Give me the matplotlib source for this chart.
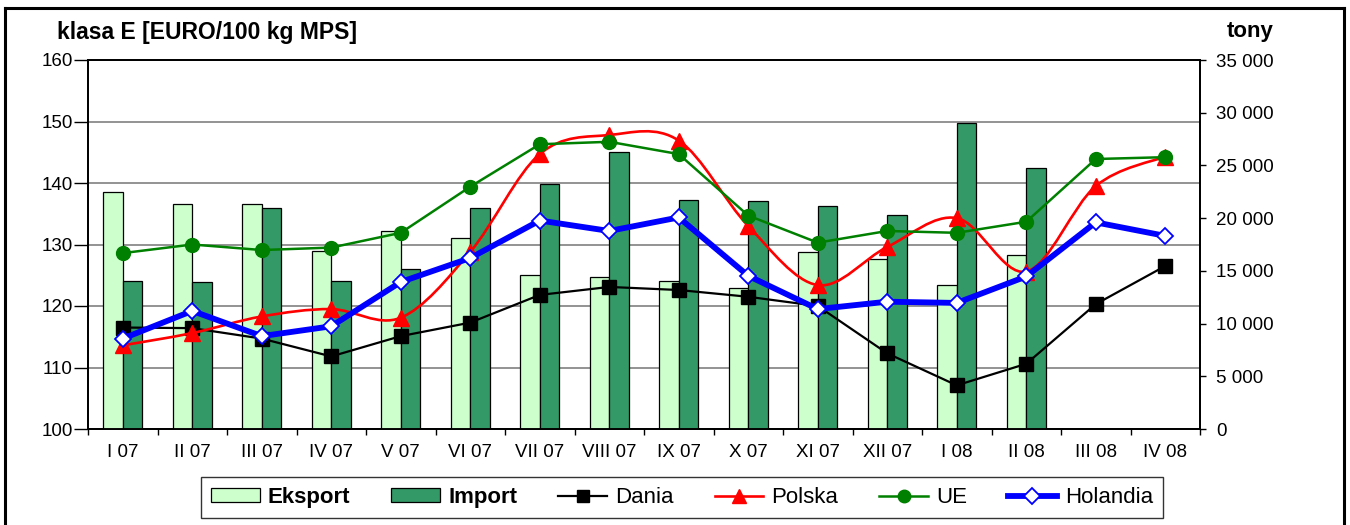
import numpy as np
import matplotlib
matplotlib.use("Agg")
import matplotlib.pyplot as plt
from matplotlib.path import Path
from matplotlib.patches import PathPatch, Rectangle
from matplotlib.lines import Line2D
from matplotlib.ticker import FuncFormatter

plt.rcParams['font.family'] = ['Liberation Sans', 'DejaVu Sans']

# ---------------- data ----------------
categories = ["I 07", "II 07", "III 07", "IV 07", "V 07", "VI 07", "VII 07", "VIII 07",
              "IX 07", "X 07", "XI 07", "XII 07", "I 08", "II 08", "III 08", "IV 08"]
# tonnes (right axis)
eksport = [22450, 21370, 21370, 16850, 18780, 18090, 14640, 14390,
           14040, 13340, 16760, 16090, 13630, 16500, np.nan, np.nan]
import_t = [14010, 13910, 20990, 14010, 15150, 20990, 23270, 26240,
            21750, 21630, 21120, 20330, 29020, 24730, np.nan, np.nan]
# EURO/100 kg (left axis)
dania = [116.5, 116.4, 114.7, 111.8, 115.1, 117.3, 121.8, 123.1,
         122.6, 121.5, 120.0, 112.3, 107.1, 110.6, 120.3, 126.5]
polska = [113.6, 115.6, 118.3, 119.5, 118.1, 128.8, 144.7, 147.8,
          146.9, 133.0, 123.4, 129.6, 134.3, 125.6, 139.5, 144.3]
ue = [128.6, 130.0, 129.1, 129.5, 131.9, 139.4, 146.3, 146.7,
      144.7, 134.7, 130.3, 132.2, 131.9, 133.7, 143.9, 144.2]
holandia = [114.7, 119.2, 115.1, 116.7, 123.9, 127.8, 133.9, 132.2,
            134.4, 124.9, 119.5, 120.7, 120.5, 124.8, 133.6, 131.4]

left_ticks = [100, 110, 120, 130, 140, 150, 160]
right_ticks = [0, 5000, 10000, 15000, 20000, 25000, 30000, 35000]

# ---------------- figure ----------------
W, H = 1350, 525
fig = plt.figure(figsize=(W / 100, H / 100), dpi=100)
fig.patch.set_facecolor("white")

L, R, B, T = 88 / W, 1200 / W, 1 - 429 / H, 1 - 60 / H
ax_bg = fig.add_axes([L, B, R - L, T - B])
ax_b = ax_bg.twinx()
ax_l = ax_bg.twinx()
ax_bg.set_zorder(0)
ax_b.set_zorder(1)
ax_l.set_zorder(2)
ax_b.patch.set_visible(False)
ax_l.patch.set_visible(False)

x = np.arange(len(categories))
for a in (ax_bg, ax_b, ax_l):
    a.set_xlim(-0.5, len(categories) - 0.5)

# background gridlines on left scale
ax_bg.set_ylim(left_ticks[0], left_ticks[-1])
ax_bg.set_yticks(left_ticks)
ax_bg.yaxis.grid(True, color="#808080", linewidth=1.2)
ax_bg.set_axisbelow(True)
ax_bg.tick_params(axis="y", direction="out", length=10, width=1.0, pad=1,
                  labelsize=13.5, colors="black")

# x axis
ax_bg.set_xticks(x)
ax_bg.set_xticklabels(categories)
ax_bg.set_xticks(np.arange(-0.5, len(categories), 1.0), minor=True)
ax_bg.tick_params(axis="x", which="major", length=0, pad=11, labelsize=13.5)
ax_bg.tick_params(axis="x", which="minor", direction="out", length=4.5, width=1.0)

# bars (right axis)
bw = 0.28
ax_b.bar(x - bw / 2, eksport, width=bw, color="#CCFFCC", edgecolor="black",
         linewidth=0.9, label="Eksport")
ax_b.bar(x + bw / 2, import_t, width=bw, color="#339966", edgecolor="black",
         linewidth=0.9, label="Import")
ax_b.set_ylim(right_ticks[0], right_ticks[-1])
ax_b.set_yticks(right_ticks)
ax_b.yaxis.set_major_formatter(FuncFormatter(lambda v, p: f"{int(v):,}".replace(",", " ")))
ax_b.tick_params(axis="y", direction="out", length=4.5, width=1.0, pad=7,
                 labelsize=13.5)

# lines (left scale)
ax_l.set_ylim(left_ticks[0], left_ticks[-1])
ax_l.set_yticks([])
ax_l.plot(x, dania, color="black", linewidth=1.6, marker="s", markersize=10,
          markerfacecolor="black", markeredgecolor="black", zorder=3)


def smooth_path(xs, ys):
    pts = np.column_stack([xs, ys]).astype(float)
    n = len(pts)
    verts = [tuple(pts[0])]
    codes = [Path.MOVETO]
    for i in range(n - 1):
        p0 = pts[max(i - 1, 0)]
        p1 = pts[i]
        p2 = pts[i + 1]
        p3 = pts[min(i + 2, n - 1)]
        c1 = p1 + (p2 - p0) / 6.0
        c2 = p2 - (p3 - p1) / 6.0
        verts += [tuple(c1), tuple(c2), tuple(p2)]
        codes += [Path.CURVE4] * 3
    return Path(verts, codes)


ax_l.add_patch(PathPatch(smooth_path(x, polska), facecolor="none", edgecolor="red",
                         linewidth=1.9, zorder=4))
ax_l.plot(x, polska, linestyle="none", marker="^", markersize=11,
          markerfacecolor="red", markeredgecolor="red", zorder=4)
ax_l.plot(x, ue, color="#008000", linewidth=1.8, marker="o", markersize=10,
          markerfacecolor="#008000", markeredgecolor="#008000", zorder=5)
ax_l.plot(x, holandia, color="#0000FF", linewidth=4.2, marker="D", markersize=8.5,
          markerfacecolor="white", markeredgecolor="#0000FF", markeredgewidth=1.3,
          zorder=6)

for a in (ax_bg, ax_b, ax_l):
    for s in a.spines.values():
        s.set_color("black")
        s.set_linewidth(1.1)

# titles
fig.text(57 / W, 1 - 32 / H, "klasa E [EURO/100 kg MPS]", fontsize=16.5,
         fontweight="bold", ha="left", va="center")
fig.text(1250 / W, 1 - 32 / H, "tony", fontsize=16, fontweight="bold",
         ha="center", va="center")

# legend
handles = [
    Rectangle((0, 0), 1, 1, facecolor="#CCFFCC", edgecolor="black", linewidth=0.9),
    Rectangle((0, 0), 1, 1, facecolor="#339966", edgecolor="black", linewidth=0.9),
    Line2D([], [], color="black", linewidth=1.6, marker="s", markersize=8),
    Line2D([], [], color="red", linewidth=1.9, marker="^", markersize=10),
    Line2D([], [], color="#008000", linewidth=1.8, marker="o", markersize=9),
    Line2D([], [], color="#0000FF", linewidth=4.2, marker="D", markersize=8,
           markerfacecolor="white", markeredgecolor="#0000FF", markeredgewidth=1.3),
]
labels = ["Eksport", "Import", "Dania", "Polska", "UE", "Holandia"]
leg = fig.legend(handles, labels, ncol=6, loc="center",
                 bbox_to_anchor=(682 / W, 1 - 497.5 / H), fontsize=16,
                 frameon=True, fancybox=False, edgecolor="black",
                 handlelength=2.2, handleheight=0.6, handletextpad=0.35,
                 columnspacing=1.85, borderpad=0.45)
leg.get_frame().set_linewidth(1.0)
for t in leg.get_texts()[:2]:
    t.set_fontweight("bold")

# outer border
for xs, ys in [((5 / W, 5 / W), (0, 1 - 8 / H)),
               ((5 / W, 1344 / W), (1 - 8 / H, 1 - 8 / H)),
               ((1344 / W, 1344 / W), (0, 1 - 8 / H))]:
    fig.add_artist(Line2D(xs, ys, transform=fig.transFigure, color="black",
                          linewidth=2.2))

fig.savefig("out.png", dpi=100)
